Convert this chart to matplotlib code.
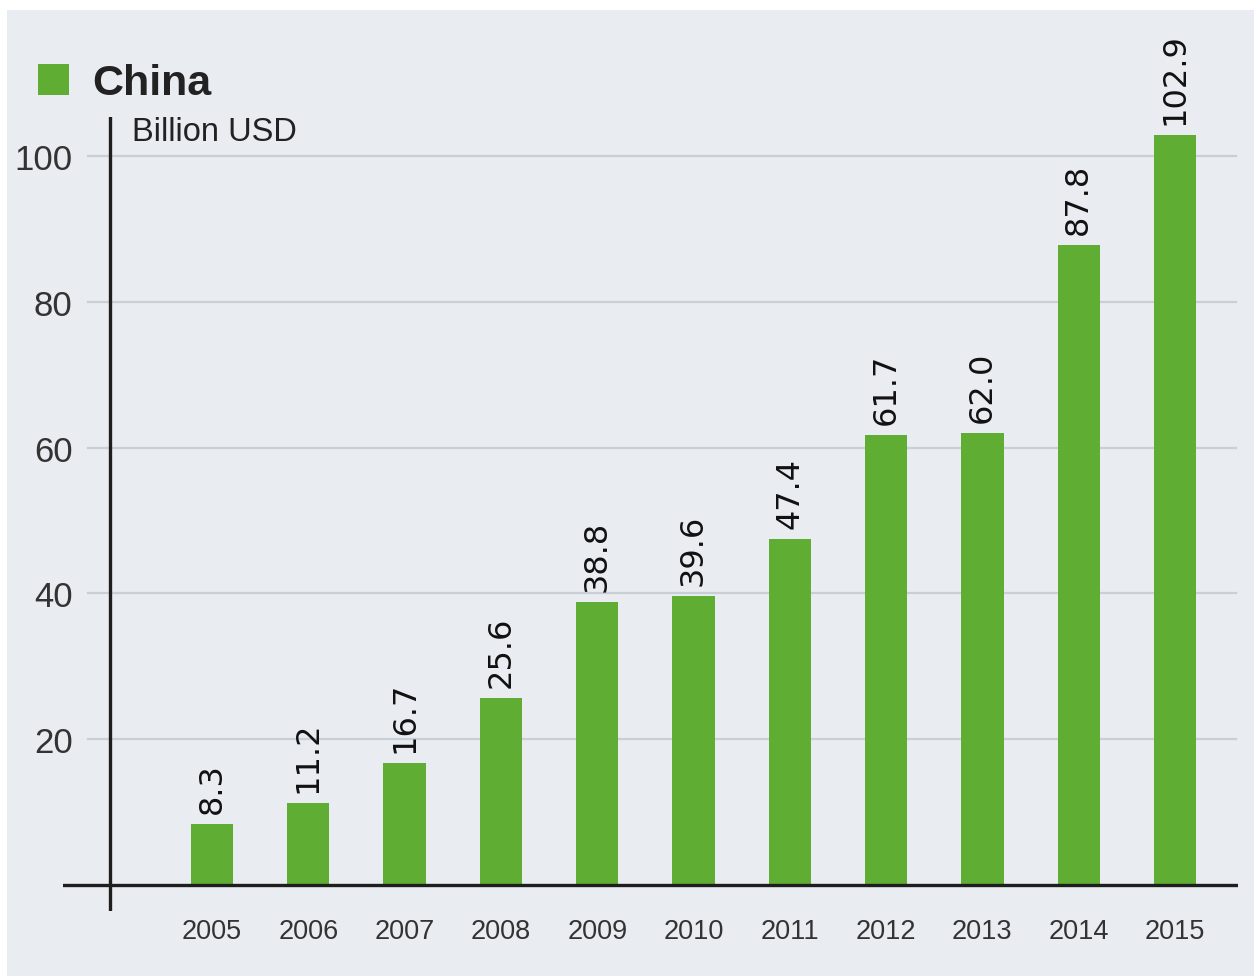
import matplotlib
matplotlib.use("Agg")
import matplotlib.pyplot as plt
from matplotlib.patches import Rectangle

years = ["2005", "2006", "2007", "2008", "2009", "2010",
         "2011", "2012", "2013", "2014", "2015"]
values = [8.3, 11.2, 16.7, 25.6, 38.8, 39.6, 47.4, 61.7, 62.0, 87.8, 102.9]
yticks = [20, 40, 60, 80, 100]

GREEN = "#5fad33"
BG = "#e9ecf0"
GRID = "#c8cfd5"
INK = "#1e1e1e"

W, H = 1254, 979
plt.rcParams["font.family"] = ["Liberation Sans", "DejaVu Sans"]

fig = plt.figure(figsize=(W / 100, H / 100), dpi=100, facecolor="white")

# grey panel behind everything
fig.patches.append(Rectangle((7 / W, 1 - 977 / H), (W - 7) / W, (977 - 11) / H,
                             transform=fig.transFigure, facecolor=BG,
                             edgecolor="none", zorder=-5))

# axes box in pixels: x 63..1238, y 118..912
ax = fig.add_axes([63 / W, 1 - 912 / H, (1238 - 63) / W, (912 - 118) / H])
ax.set_facecolor("none")

px_unit = (886 - 157) / 100.0
ax.set_ylim(-(912 - 886) / px_unit, (886 - 118) / px_unit)
step = (1175 - 212) / 10.0
ax.set_xlim((63 - 212) / step, (1238 - 212) / step)

x = list(range(len(years)))
ax.bar(x, values, width=0.44, color=GREEN, zorder=3)

for t in yticks:
    ax.axhline(t, xmin=(88 - 63) / 1175, xmax=(1236 - 63) / 1175,
               color=GRID, lw=1.6, zorder=1)

ax.axhline(0, color=INK, lw=2.4, zorder=4)
ax.axvline((110 - 212) / step, color=INK, lw=2.4, zorder=4)

# value labels, rotated
for xi, v in zip(x, values):
    ax.annotate(f"{v:.1f}", (xi, v), xytext=(0, 8), textcoords="offset points",
                rotation=90, ha="center", va="bottom", fontsize=23,
                family="DejaVu Sans", color="#111111", zorder=5)

ax.set_yticks(yticks)
ax.set_yticklabels([str(t) for t in yticks], fontsize=25, color="#333333")
ax.set_xticks(x)
ax.set_xticklabels(years, fontsize=19.5, color="#333333")
ax.tick_params(axis="y", length=0, pad=-7)
ax.tick_params(axis="x", length=0, pad=5)
for s in ax.spines.values():
    s.set_visible(False)

# legend-like title
fig.patches.append(Rectangle((38 / W, 1 - 96 / H), 31 / W, 31 / H,
                             transform=fig.transFigure, facecolor=GREEN,
                             edgecolor="none", zorder=5))
fig.text(92 / W, 1 - 95 / H, "China", fontsize=31, fontweight="bold",
         color="#222222", ha="left", va="baseline")
fig.text(132 / W, 1 - 141 / H, "Billion USD", fontsize=23.5,
         color="#222222", ha="left", va="baseline")

fig.savefig("out.png", dpi=100, facecolor="white")
